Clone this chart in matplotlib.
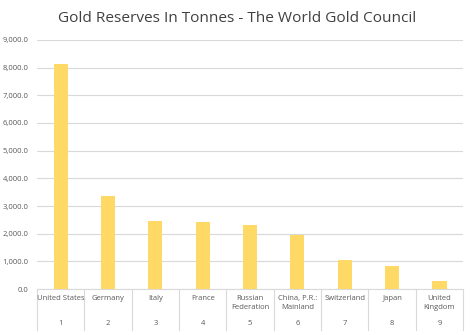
import matplotlib
matplotlib.use("Agg")
import matplotlib.pyplot as plt
import matplotlib.transforms as mtransforms

countries = ["United States", "Germany", "Italy", "France", "Russian\nFederation",
             "China, P.R.:\nMainland", "Switzerland", "Japan", "United\nKingdom"]
ranks = ["1", "2", "3", "4", "5", "6", "7", "8", "9"]
tonnes = [8133.5, 3362.4, 2451.8, 2436.0, 2298.5, 1948.3, 1040.0, 846.0, 310.3]
yticks = [0, 1000, 2000, 3000, 4000, 5000, 6000, 7000, 8000, 9000]

plt.rcParams["font.family"] = ["Open Sans", "DejaVu Sans"]
text_col = "#595959"
title_col = "#404040"
grid_col = "#d9d9d9"
bar_col = "#ffd966"

fig = plt.figure(figsize=(4.74, 3.35), dpi=100)
ax = fig.add_axes([0.078, 0.137, 0.899, 0.744])

x = list(range(len(countries)))
ax.bar(x, tonnes, width=0.3, color=bar_col, zorder=3)

ax.set_xlim(-0.5, len(countries) - 0.5)
ax.set_ylim(0, 9000)
ax.set_yticks(yticks)
ax.set_yticklabels([f"{v:,.1f}" for v in yticks], fontsize=5.5, color=text_col)
ax.tick_params(axis="y", length=0, pad=6)
ax.set_xticks([])
ax.grid(axis="y", color=grid_col, linewidth=0.8, zorder=0)
for s in ["top", "right", "left"]:
    ax.spines[s].set_visible(False)
ax.spines["bottom"].set_color(grid_col)
ax.spines["bottom"].set_linewidth(0.8)

# two-level category axis: names above, rank numbers below, separated by dividers
trans = mtransforms.blended_transform_factory(ax.transData, ax.transAxes)
for i in range(len(countries) + 1):
    ax.plot([i - 0.5, i - 0.5], [0, -0.165], transform=trans, color=grid_col,
            linewidth=0.8, clip_on=False)
for i, (name, rank) in enumerate(zip(countries, ranks)):
    ax.text(i, -0.022, name, transform=trans, ha="center", va="top",
            fontsize=5.5, color=text_col, linespacing=1.5)
    ax.text(i, -0.14, rank, transform=trans, ha="center", va="center",
            fontsize=5.5, color=text_col)

fig.text(0.5, 0.946, "Gold Reserves In Tonnes - The World Gold Council",
         ha="center", va="center", fontsize=11.1, color=title_col)

fig.savefig("out.png", dpi=100)
